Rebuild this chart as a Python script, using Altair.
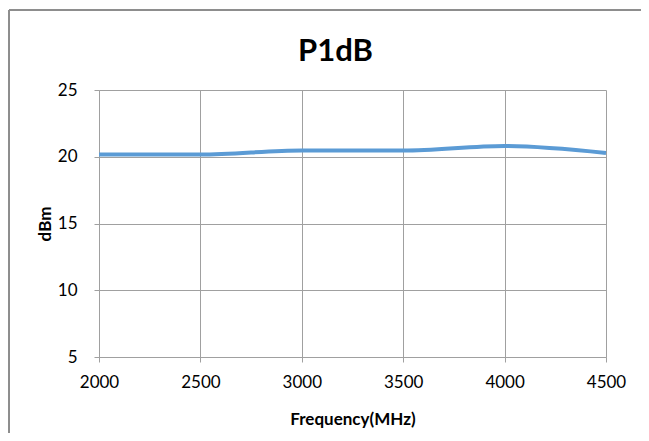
import altair as alt
import pandas as pd

freq = [2000, 2500, 3000, 3500, 4000, 4500]
p1db = [20.17, 20.16, 20.47, 20.46, 20.8, 20.28]

df = pd.DataFrame({"freq": freq, "p1db": p1db})

FONT = "Lato"

line = alt.Chart(df).mark_line(
    color="#5B9BD5", strokeWidth=4, interpolate="monotone"
).encode(
    x=alt.X("freq:Q", scale=alt.Scale(domain=[2000, 4500], nice=False, zero=False),
            axis=alt.Axis(title="Frequency(MHz)", values=[2000, 2500, 3000, 3500, 4000, 4500],
                          format="d")),
    y=alt.Y("p1db:Q", scale=alt.Scale(domain=[5, 25], nice=False, zero=False),
            axis=alt.Axis(title="dBm", values=[5, 10, 15, 20, 25])),
)

frame_top = alt.Chart(df).mark_rule(
    stroke="#8C8C8C", strokeWidth=1, clip=False
).encode(x=alt.value(-90), x2=alt.value(542), y=alt.value(-80))

frame_left = alt.Chart(df).mark_rule(
    stroke="#8C8C8C", strokeWidth=1, clip=False
).encode(x=alt.value(-90), y=alt.value(-80), y2=alt.value(343))

chart = alt.layer(frame_top, frame_left, line).properties(
    width=507, height=267,
    title=alt.TitleParams("P1dB", font=FONT, fontSize=31, fontWeight="bold",
                          color="#000000", anchor="middle", offset=-58, dx=-17),
    autosize=alt.AutoSizeParams(type="none"),
    padding={"left": 91, "top": 82, "right": 35, "bottom": 76},
).configure_view(stroke=None).configure_axis(
    labelFont=FONT, labelFontSize=17, labelColor="#000000", labelFlush=False,
    titleFont=FONT, titleFontSize=17, titleFontWeight="bold", titleColor="#000000",
    grid=True, gridColor="#A0A0A0", gridWidth=1,
    domainColor="#A0A0A0", tickColor="#A0A0A0", tickSize=5,
).configure_axisX(
    labelPadding=12, titlePadding=21,
).configure_axisY(
    labelPadding=17, titlePadding=3,
)

chart.save("out.html", embed_options={"renderer": "svg", "actions": False})
